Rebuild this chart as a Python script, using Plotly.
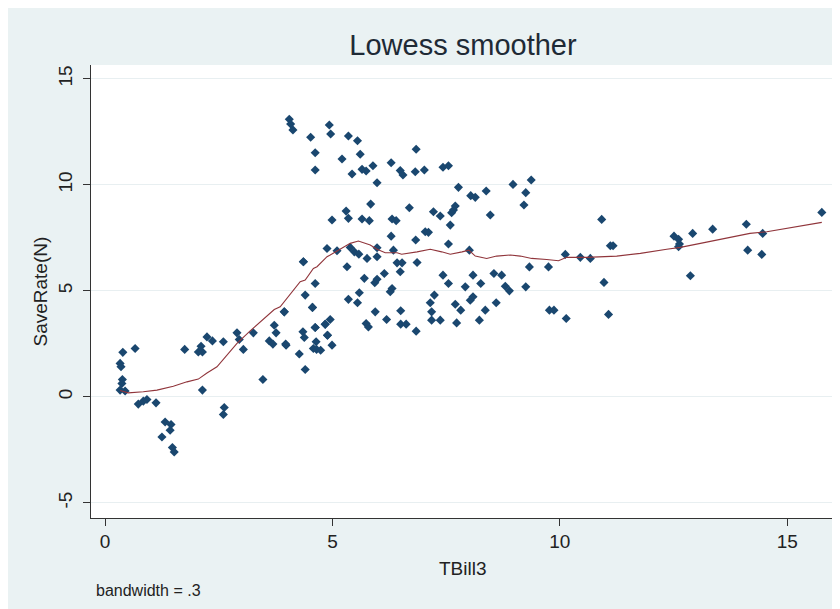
import plotly.graph_objects as go

# Scatter data: TBill3 (x) and SaveRate(N) (y)
tbill3 = [
    0.39, 0.66, 0.33, 0.35, 0.38, 0.37, 0.33, 0.44, 0.73, 0.84, 0.92, 1.12, 1.32, 1.45, 1.43, 1.25, 1.48, 1.52,
    1.75, 2.05, 2.11, 2.14, 2.24, 2.36, 2.60, 2.14, 2.90, 2.95, 3.04, 2.62, 2.60, 3.26,
    3.47, 3.61, 3.69, 3.72, 3.76, 3.94, 3.97, 4.27, 4.35, 4.36, 4.38, 4.56, 4.62, 4.64, 4.58, 4.65, 4.74,
    4.40, 4.84, 4.89, 3.98,
    4.05, 4.08, 4.13, 4.52, 4.62, 4.62, 4.93, 4.96, 5.35, 5.55, 5.21, 5.61, 5.43, 5.65, 5.74, 5.89, 5.98,
    6.29, 6.49, 6.55, 6.82, 6.84, 5.84, 5.30, 5.35, 4.99, 5.65, 5.81, 6.31, 6.40, 6.69,
    7.02, 7.43, 7.55, 7.77, 8.04, 8.14, 8.38, 8.97, 9.25, 9.37, 9.21, 8.47, 7.22, 7.37, 7.66, 7.70, 7.62,
    7.59, 7.04, 7.11, 6.83, 6.29, 7.55, 8.01, 5.98, 6.34, 4.88, 5.10, 4.36, 5.32, 5.76, 5.98,
    5.39, 5.48, 5.58, 6.42, 6.53, 6.49, 6.86, 4.62, 4.40, 5.70, 5.98, 5.93, 6.14, 5.59, 5.35, 5.55,
    6.27, 6.31, 4.56, 3.94, 7.43, 7.55, 7.92, 8.09, 8.26, 8.55, 8.72, 8.80, 8.89, 9.33, 9.75, 9.25,
    8.09, 8.03, 7.24, 7.15, 7.70, 7.82, 7.18, 8.60, 8.36, 8.23, 7.73, 7.18, 7.37, 6.84, 6.50, 6.50, 6.62,
    6.19, 5.94, 5.74, 5.79, 4.95, 4.84, 4.62, 4.89, 4.99, 9.77, 9.87, 10.14,
    10.92, 11.11, 11.17, 10.12, 10.45, 10.67, 11.07, 10.97,
    12.51, 12.61, 12.63, 12.61, 12.92, 12.87, 13.36, 14.10, 14.13, 14.46, 14.44, 15.76,
]
save_rate = [
    2.10, 2.28, 1.58, 1.42, 0.82, 0.63, 0.32, 0.28, -0.34, -0.20, -0.12, -0.28, -1.18, -1.30, -1.57, -1.89, -2.39, -2.60,
    2.24, 2.12, 2.39, 2.12, 2.83, 2.64, 2.60, 0.32, 3.02, 2.71, 2.24, -0.50, -0.83, 3.02,
    0.82, 2.64, 2.49, 3.38, 3.02, 4.01, 2.49, 2.02, 3.07, 6.37, 2.80, 4.22, 3.27, 2.60, 2.28, 2.24, 2.20,
    1.29, 3.43, 2.91, 2.44,
    13.09, 12.87, 12.59, 12.24, 11.51, 10.70, 12.82, 12.40, 12.30, 12.08, 11.22, 11.44, 10.51, 10.73, 10.65, 10.90, 10.10,
    11.04, 10.67, 10.46, 10.62, 11.68, 9.09, 8.76, 8.42, 8.34, 8.39, 8.31, 8.39, 8.31, 8.92,
    10.70, 10.83, 10.90, 9.88, 9.49, 9.41, 9.71, 10.02, 9.63, 10.23, 9.05, 8.58, 8.73, 8.53, 8.81, 9.00, 8.68,
    8.10, 7.79, 7.76, 7.40, 7.58, 7.21, 6.92, 7.03, 6.92, 7.00, 6.89, 6.37, 6.14, 6.53, 6.61,
    7.05, 6.84, 6.73, 6.32, 6.32, 5.90, 6.34, 5.35, 4.80, 5.59, 5.55, 5.38, 5.82, 4.91, 4.60, 4.44,
    4.96, 5.11, 4.22, 4.01, 5.74, 5.35, 5.19, 5.74, 5.35, 5.82, 5.74, 5.22, 5.00, 6.13, 6.13, 5.19,
    4.72, 4.56, 4.80, 4.44, 4.37, 4.09, 4.01, 4.44, 4.09, 3.62, 3.49, 3.62, 3.62, 3.10, 4.06, 3.43, 3.43,
    3.65, 4.01, 3.46, 3.30, 3.65, 3.42, 3.27, 2.91, 2.44, 4.09, 4.09, 3.70,
    8.37, 7.13, 7.13, 6.72, 6.58, 6.53, 3.89, 5.40,
    7.58, 7.43, 7.21, 7.08, 7.71, 5.71, 7.91, 8.14, 6.92, 7.71, 6.72, 8.70,
]

# Lowess smoother (bandwidth = .3)
lowess_x = [0.33, 0.51, 0.84, 1.14, 1.50, 1.80, 2.05, 2.24, 2.46, 2.68, 2.90, 3.19, 3.45, 3.67, 3.72,
            3.85, 3.99, 4.14, 4.29, 4.40, 4.58, 4.66, 4.88, 4.95, 5.21, 5.39, 5.57, 5.68, 5.83, 5.98,
            6.16, 6.42, 6.52, 6.86, 7.15, 7.40, 7.59, 7.85, 8.00, 8.14, 8.39, 8.61, 8.91, 9.13, 9.38,
            9.71, 9.97, 10.15, 10.59, 11.25, 11.77, 12.35, 12.65, 13.09, 13.67, 14.18, 14.55, 14.99, 15.76]
lowess_y = [0.30, 0.19, 0.24, 0.32, 0.50, 0.71, 0.84, 1.13, 1.42, 1.97, 2.52, 3.11, 3.62, 4.01, 4.12,
            4.25, 4.62, 5.04, 5.43, 5.51, 6.06, 6.14, 6.61, 6.69, 7.00, 7.24, 7.35, 7.27, 7.16, 6.96,
            6.80, 6.80, 6.73, 6.84, 6.96, 6.84, 6.73, 6.84, 6.92, 6.64, 6.53, 6.64, 6.69, 6.64, 6.53,
            6.48, 6.42, 6.58, 6.58, 6.64, 6.77, 6.96, 7.05, 7.24, 7.48, 7.71, 7.79, 7.95, 8.23]

y_ticks = [-5, 0, 5, 10, 15]
x_ticks = [0, 5, 10, 15]

BG = "#EAF2F3"
NAVY = "#1A476F"
MAROON = "#90353B"
FONT = "Liberation Sans, Arial, sans-serif"
TXT = "#222222"

W, H = 832, 601
L, R, T, B = 83, 5, 57, 91
PW, PH = W - L - R, H - T - B

fig = go.Figure()
fig.add_trace(go.Scatter(
    x=tbill3, y=save_rate, mode="markers",
    marker=dict(symbol="diamond", size=7, color=NAVY, line=dict(width=0)),
    showlegend=False, hoverinfo="x+y",
))
fig.add_trace(go.Scatter(
    x=lowess_x, y=lowess_y, mode="lines",
    line=dict(color=MAROON, width=1.1),
    showlegend=False,
))

fig.update_layout(
    width=W, height=H,
    paper_bgcolor=BG, plot_bgcolor="white",
    margin=dict(l=L, r=R, t=T, b=B, autoexpand=False),
    font=dict(family=FONT, color=TXT),
    title=dict(text="Lowess smoother", x=455 / W, xanchor="center", y=1 - 37 / H, yanchor="middle",
               font=dict(size=29, color="#1e2a36", family=FONT)),
    xaxis=dict(
        range=[-0.31, 16.05], tickvals=x_ticks, ticktext=[str(v) for v in x_ticks],
        showgrid=False, zeroline=False, showline=True, linecolor="#333333", linewidth=1.2,
        ticks="outside", ticklen=7, tickcolor="#333333", tickwidth=1.2,
        tickfont=dict(size=19, color=TXT), ticklabelstandoff=-1,
    ),
    yaxis=dict(
        range=[-5.71, 15.65], tickvals=y_ticks, ticktext=[str(v) for v in y_ticks],
        showgrid=True, gridcolor="#E8EFF1", gridwidth=1, zeroline=False,
        showline=True, linecolor="#333333", linewidth=1.2,
        ticks="outside", ticklen=7, tickcolor="#333333", tickwidth=1.2, tickangle=-90,
        tickfont=dict(size=19, color=TXT), ticklabelstandoff=3,
    ),
    annotations=[
        dict(text="TBill3", xref="paper", yref="paper", x=0.5, y=-(560 - (H - B)) / PH,
             xanchor="center", yanchor="middle", showarrow=False, font=dict(size=19, color=TXT)),
        dict(text="SaveRate(N)", xref="paper", yref="paper", x=(32 - L) / PW, y=0.5,
             xanchor="center", yanchor="middle", textangle=-90, showarrow=False,
             font=dict(size=19, color=TXT)),
        dict(text="bandwidth = .3", xref="paper", yref="paper", x=(86 - L) / PW, y=-(582 - (H - B)) / PH,
             xanchor="left", yanchor="middle", showarrow=False, font=dict(size=16, color=TXT)),
    ],
)

fig.write_html("out.html")
